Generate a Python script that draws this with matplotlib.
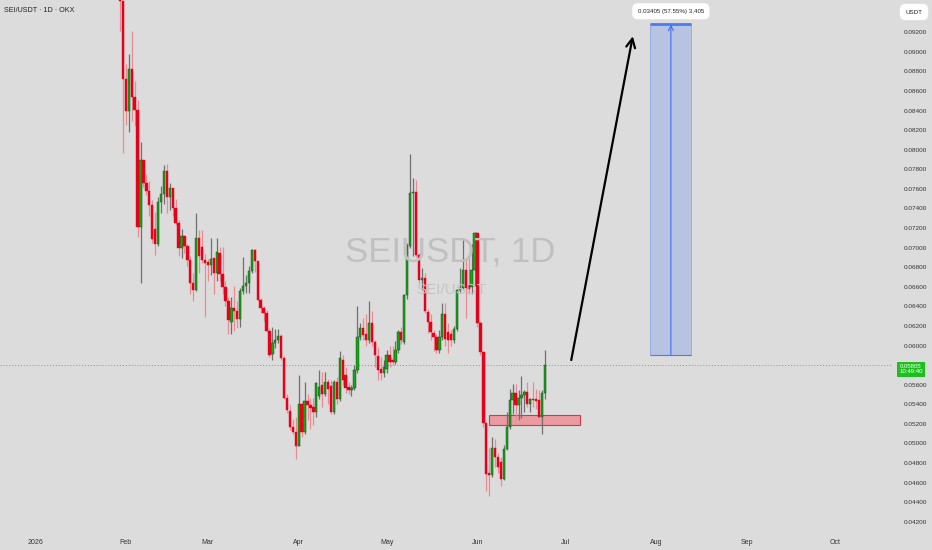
import numpy as np
import pandas as pd
import matplotlib
matplotlib.use("Agg")
import matplotlib.pyplot as plt
import matplotlib.dates as mdates
import matplotlib.transforms as mtransforms
from matplotlib.patches import Rectangle

plt.rcParams['font.family'] = ['Liberation Sans', 'DejaVu Sans']

# daily candles SEI/USDT, starting 30 Jan 2026
first_day = "2026-01-30"
opens = [0.0985, 0.0952, 0.0872, 0.0840, 0.0882, 0.0854, 0.0841, 0.0721, 0.0790, 0.0766,
         0.0758, 0.0744, 0.0719, 0.0704, 0.0747, 0.0755, 0.0778, 0.0752, 0.0761, 0.0740,
         0.0725, 0.0700, 0.0712, 0.0702, 0.0687, 0.0664, 0.0657, 0.0710, 0.0701, 0.0687,
         0.0685, 0.0682, 0.0689, 0.0674, 0.0695, 0.0673, 0.0660, 0.0645, 0.0624, 0.0638,
         0.0635, 0.0627, 0.0656, 0.0661, 0.0664, 0.0676, 0.0698, 0.0686, 0.0647, 0.0638,
         0.0633, 0.0615, 0.0591, 0.0603, 0.0606, 0.0610, 0.0587, 0.0546, 0.0533, 0.0517,
         0.0512, 0.0497, 0.0540, 0.0512, 0.0543, 0.0539, 0.0537, 0.0532, 0.0548, 0.0560,
         0.0550, 0.0563, 0.0559, 0.0532, 0.0563, 0.0545, 0.0585, 0.0570, 0.0558, 0.0555,
         0.0557, 0.0575, 0.0609, 0.0618, 0.0612, 0.0606, 0.0623, 0.0604, 0.0589, 0.0576,
         0.0572, 0.0576, 0.0590, 0.0585, 0.0583, 0.0595, 0.0614, 0.0604, 0.0652, 0.0702,
         0.0756, 0.0757, 0.0692, 0.0667, 0.0669, 0.0634, 0.0624, 0.0613, 0.0609, 0.0595,
         0.0609, 0.0632, 0.0614, 0.0612, 0.0606, 0.0617, 0.0657, 0.0659, 0.0677, 0.0662,
         0.0660, 0.0677, 0.0715, 0.0623, 0.0593, 0.0521, 0.0470, 0.0468, 0.0495, 0.0486,
         0.0481, 0.0464, 0.0494, 0.0517, 0.0544, 0.0552, 0.0539, 0.0546, 0.0549, 0.0553,
         0.0540, 0.0545, 0.0545, 0.0544, 0.0527, 0.0552]
highs = [0.1000, 0.0953, 0.0888, 0.0898, 0.0921, 0.0870, 0.0851, 0.0808, 0.0790, 0.0775,
         0.0768, 0.0749, 0.0736, 0.0752, 0.0763, 0.0784, 0.0785, 0.0766, 0.0761, 0.0750,
         0.0728, 0.0719, 0.0713, 0.0704, 0.0691, 0.0674, 0.0735, 0.0718, 0.0718, 0.0694,
         0.0688, 0.0710, 0.0689, 0.0710, 0.0701, 0.0701, 0.0666, 0.0650, 0.0650, 0.0661,
         0.0646, 0.0659, 0.0690, 0.0672, 0.0681, 0.0699, 0.0699, 0.0686, 0.0649, 0.0640,
         0.0636, 0.0618, 0.0619, 0.0617, 0.0617, 0.0612, 0.0589, 0.0551, 0.0539, 0.0525,
         0.0527, 0.0570, 0.0541, 0.0563, 0.0551, 0.0546, 0.0546, 0.0563, 0.0575, 0.0573,
         0.0573, 0.0566, 0.0565, 0.0565, 0.0568, 0.0594, 0.0590, 0.0578, 0.0563, 0.0560,
         0.0580, 0.0640, 0.0623, 0.0628, 0.0632, 0.0645, 0.0635, 0.0606, 0.0599, 0.0588,
         0.0585, 0.0595, 0.0600, 0.0600, 0.0605, 0.0616, 0.0619, 0.0653, 0.0705, 0.0796,
         0.0771, 0.0769, 0.0695, 0.0679, 0.0674, 0.0637, 0.0632, 0.0616, 0.0612, 0.0616,
         0.0643, 0.0643, 0.0623, 0.0616, 0.0620, 0.0658, 0.0679, 0.0710, 0.0689, 0.0691,
         0.0704, 0.0716, 0.0716, 0.0625, 0.0594, 0.0522, 0.0495, 0.0507, 0.0505, 0.0490,
         0.0486, 0.0498, 0.0532, 0.0556, 0.0561, 0.0561, 0.0555, 0.0569, 0.0555, 0.0563,
         0.0546, 0.0563, 0.0556, 0.0555, 0.0555, 0.0595]
lows = [0.0921, 0.0797, 0.0825, 0.0818, 0.0829, 0.0824, 0.0711, 0.0664, 0.0762, 0.0754,
        0.0732, 0.0705, 0.0693, 0.0702, 0.0735, 0.0745, 0.0735, 0.0738, 0.0732, 0.0723,
        0.0691, 0.0689, 0.0695, 0.0681, 0.0653, 0.0645, 0.0656, 0.0674, 0.0684, 0.0629,
        0.0666, 0.0672, 0.0653, 0.0666, 0.0666, 0.0653, 0.0640, 0.0612, 0.0612, 0.0615,
        0.0618, 0.0619, 0.0653, 0.0654, 0.0654, 0.0674, 0.0675, 0.0647, 0.0633, 0.0625,
        0.0614, 0.0588, 0.0585, 0.0597, 0.0603, 0.0585, 0.0545, 0.0531, 0.0514, 0.0510,
        0.0484, 0.0497, 0.0507, 0.0510, 0.0524, 0.0515, 0.0519, 0.0527, 0.0545, 0.0537,
        0.0548, 0.0540, 0.0530, 0.0530, 0.0540, 0.0543, 0.0560, 0.0552, 0.0550, 0.0548,
        0.0555, 0.0572, 0.0606, 0.0606, 0.0600, 0.0603, 0.0600, 0.0578, 0.0565, 0.0565,
        0.0568, 0.0572, 0.0578, 0.0580, 0.0581, 0.0592, 0.0602, 0.0602, 0.0648, 0.0700,
        0.0691, 0.0690, 0.0664, 0.0657, 0.0633, 0.0613, 0.0606, 0.0594, 0.0592, 0.0592,
        0.0606, 0.0600, 0.0592, 0.0600, 0.0603, 0.0615, 0.0655, 0.0657, 0.0628, 0.0653,
        0.0653, 0.0660, 0.0619, 0.0590, 0.0517, 0.0451, 0.0446, 0.0466, 0.0476, 0.0470,
        0.0456, 0.0463, 0.0493, 0.0515, 0.0530, 0.0524, 0.0524, 0.0526, 0.0532, 0.0537,
        0.0532, 0.0537, 0.0535, 0.0526, 0.0510, 0.0545]
closes = [0.0952, 0.0872, 0.0840, 0.0882, 0.0854, 0.0841, 0.0721, 0.0790, 0.0766, 0.0758,
          0.0744, 0.0709, 0.0704, 0.0747, 0.0755, 0.0778, 0.0752, 0.0761, 0.0740, 0.0725,
          0.0700, 0.0712, 0.0702, 0.0687, 0.0664, 0.0657, 0.0710, 0.0691, 0.0687, 0.0684,
          0.0682, 0.0688, 0.0674, 0.0696, 0.0673, 0.0660, 0.0645, 0.0626, 0.0638, 0.0635,
          0.0627, 0.0656, 0.0661, 0.0664, 0.0676, 0.0698, 0.0686, 0.0647, 0.0638, 0.0633,
          0.0615, 0.0590, 0.0603, 0.0606, 0.0610, 0.0587, 0.0546, 0.0534, 0.0517, 0.0512,
          0.0497, 0.0540, 0.0512, 0.0543, 0.0539, 0.0536, 0.0532, 0.0562, 0.0558, 0.0550,
          0.0563, 0.0556, 0.0532, 0.0563, 0.0545, 0.0587, 0.0565, 0.0557, 0.0555, 0.0557,
          0.0575, 0.0609, 0.0618, 0.0611, 0.0606, 0.0623, 0.0604, 0.0590, 0.0575, 0.0572,
          0.0578, 0.0590, 0.0583, 0.0583, 0.0595, 0.0614, 0.0606, 0.0652, 0.0702, 0.0756,
          0.0757, 0.0692, 0.0667, 0.0669, 0.0635, 0.0624, 0.0614, 0.0609, 0.0595, 0.0609,
          0.0632, 0.0607, 0.0606, 0.0606, 0.0617, 0.0657, 0.0659, 0.0677, 0.0659, 0.0658,
          0.0677, 0.0715, 0.0623, 0.0593, 0.0521, 0.0469, 0.0468, 0.0495, 0.0486, 0.0476,
          0.0464, 0.0494, 0.0517, 0.0544, 0.0552, 0.0539, 0.0546, 0.0549, 0.0553, 0.0540,
          0.0545, 0.0544, 0.0543, 0.0527, 0.0552, 0.05805]

last_price = 0.05805
countdown = "10:49:40"

# support zone and long projection
zone_start, zone_end = "2026-06-05", "2026-07-06"
zone_low, zone_high = 0.0519, 0.0529
arrow_from = ("2026-07-03", 0.05852)
arrow_to = ("2026-07-24", 0.0916)
target_start, target_end = "2026-07-30", "2026-08-13"
target_base, target_top = 0.0590, 0.0928
target_label = "0.03405 (57.55%) 3,405"

month_ticks = pd.date_range("2026-01-01", "2026-10-01", freq="MS")
month_labels = ["2026", "Feb", "Mar", "Apr", "May", "Jun", "Jul", "Aug", "Sep", "Oct"]
price_ticks = np.arange(0.042, 0.0921, 0.002)

bg = "#dcdcdc"
up_col = "#12a812"
dn_col = "#e8001a"

fig = plt.figure(figsize=(9.32, 5.5), dpi=100, facecolor=bg)
ax = fig.add_axes([0, 22 / 550, 893 / 932, 528 / 550])
ax.set_facecolor(bg)

days = mdates.date2num(pd.date_range(first_day, periods=len(opens), freq="D"))
o = np.array(opens)
h = np.array(highs)
l = np.array(lows)
c = np.array(closes)
up = c >= o

# wicks
ax.vlines(days[up], l[up], h[up], color="#707070", lw=0.9, zorder=3)
ax.vlines(days[~up], l[~up], h[~up], color="#e88c92", lw=0.9, zorder=3)
# bodies
body_h = np.maximum(np.abs(c - o), 0.00004)
ax.bar(days[up], body_h[up], bottom=np.minimum(o, c)[up], width=0.8,
       color=up_col, edgecolor="#1f3a1f", linewidth=0.3, zorder=4)
ax.bar(days[~up], body_h[~up], bottom=np.minimum(o, c)[~up], width=0.8,
       color=dn_col, edgecolor=dn_col, linewidth=0.3, zorder=4)

# support zone
z0, z1 = mdates.date2num(pd.to_datetime([zone_start, zone_end]))
ax.add_patch(Rectangle((z0, zone_low), z1 - z0, zone_high - zone_low,
                       facecolor="#eb9aa1", edgecolor="#c2404d", lw=0.8, zorder=2))

# current price line
ax.axhline(last_price, color="#2bb52b", lw=0.7, ls=(0, (1, 2)), alpha=0.8, zorder=1)

# drawn arrow
a0 = (mdates.date2num(pd.Timestamp(arrow_from[0])), arrow_from[1])
a1 = (mdates.date2num(pd.Timestamp(arrow_to[0])), arrow_to[1])
ax.annotate("", xy=a1, xytext=a0,
            arrowprops=dict(arrowstyle="->", color="black", lw=1.6, mutation_scale=16,
                            shrinkA=0, shrinkB=0), zorder=6)

# long position box
t0, t1 = mdates.date2num(pd.to_datetime([target_start, target_end]))
ax.add_patch(Rectangle((t0, target_base), t1 - t0, target_top - target_base,
                       facecolor="#2962ff", alpha=0.2, edgecolor="none", zorder=2))
ax.add_patch(Rectangle((t0, target_base), t1 - t0, target_top - target_base,
                       facecolor="none", edgecolor="#8ea6e6", lw=0.6, zorder=2))
ax.hlines(target_top, t0, t1, color="#4a7af5", lw=2, zorder=3)
ax.hlines(target_base, t0, t1, color="#4a7af5", lw=0.8, zorder=3)
tm = (t0 + t1) / 2
ax.annotate("", xy=(tm, target_top), xytext=(tm, target_base),
            arrowprops=dict(arrowstyle="->", color="#3d6ef5", lw=0.8, mutation_scale=9,
                            shrinkA=0, shrinkB=0), zorder=4)
ax.text(tm, target_top + 0.00135, target_label, ha="center", va="center", fontsize=4.4,
        color="#222222", bbox=dict(boxstyle="round,pad=0.9", fc="white", ec="none"), zorder=7)

# watermark
fig.text(450 / 932, 1 - 252 / 550, "SEIUSDT, 1D", ha="center", va="center",
         fontsize=25, color="#c0c0c0", zorder=0)
fig.text(451 / 932, 1 - 290 / 550, "SEI/USDT", ha="center", va="center",
         fontsize=11, color="#c4c4c4", zorder=0)

# axes
ax.set_xlim(mdates.date2num(pd.Timestamp("2026-01-01")) - 11.95,
            mdates.date2num(pd.Timestamp("2026-01-01")) + 292.8)
ax.set_ylim(0.04136, 0.0953)
ax.set_xticks(mdates.date2num(month_ticks))
ax.set_xticklabels(month_labels)
ax.yaxis.tick_right()
ax.set_yticks(price_ticks)
# the last price tag hides the 0.05800 label
ax.set_yticklabels(["" if abs(p - 0.058) < 1e-6 else f"{p:.5f}" for p in price_ticks])
ax.tick_params(axis="y", length=0, pad=8, labelsize=4.6, labelcolor="#333333")
ax.tick_params(axis="x", length=0, pad=8, labelsize=5, labelcolor="#333333")
for s in ax.spines.values():
    s.set_visible(False)

# last price tag
trans = mtransforms.blended_transform_factory(ax.transAxes, ax.transData)
tag_trans = mtransforms.offset_copy(trans, fig=fig, x=0, y=-4.5, units="dots")
ax.text(911 / 893, last_price, f"{last_price:.5f}\n{countdown}", transform=tag_trans,
        ha="center", va="center", fontsize=4.3, color="white", linespacing=1.15, clip_on=False,
        bbox=dict(boxstyle="square,pad=0.35", fc="#1cbf1c", ec="none"), zorder=8)

fig.text(4 / 932, 1 - 10 / 550, "SEI/USDT · 1D · OKX", ha="left", va="center",
         fontsize=5.2, color="#222222")
fig.text(914 / 932, 1 - 12 / 550, "USDT", ha="center", va="center", fontsize=4.5, color="#222222",
         bbox=dict(boxstyle="round,pad=0.9", fc="white", ec="none"))

fig.savefig("out.png", dpi=100, facecolor=bg)
